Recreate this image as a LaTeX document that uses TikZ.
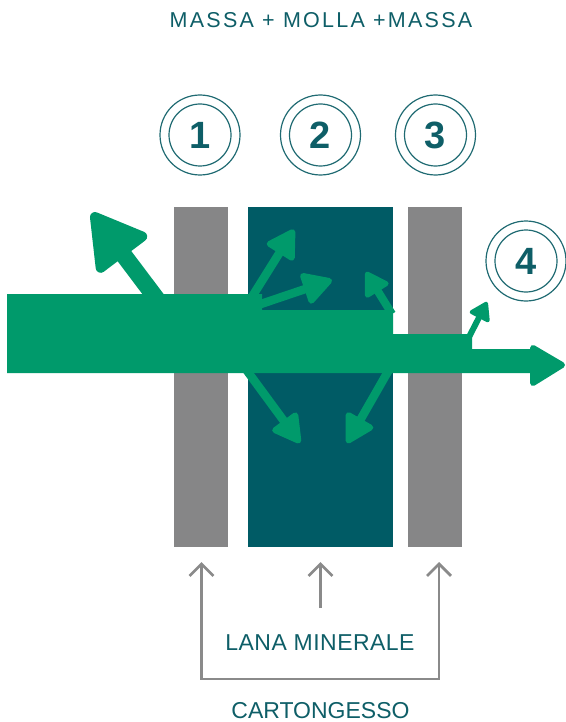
\documentclass[tikz,border=0pt]{standalone}
\usepackage{fontspec}
\setmainfont{Liberation Sans}
\usetikzlibrary{arrows.meta}
\definecolor{gr}{HTML}{009A6B}
\definecolor{tealbar}{HTML}{005B65}
\definecolor{graybar}{HTML}{868687}
\definecolor{txt}{HTML}{0E5E67}
\definecolor{ringc}{HTML}{1F6A72}
\definecolor{garrc}{HTML}{8A8A8A}
\tikzset{
  pics/garrow/.style n args={5}{code={%
    \fill[gr] (0,{-#2/2}) rectangle ({#1-#3+1},{#2/2});
    \filldraw[gr, line width=#5pt, line join=round]
      ({#1-#3+#5/2},{-#4/2+#5/2}) -- ({#1-#5/2},0) -- ({#1-#3+#5/2},{#4/2-#5/2}) -- cycle;
  }},
  bar/.style={minimum width=#1, minimum height=340pt, inner sep=0pt, outer sep=0pt},
  ringnode/.style={circle, draw=ringc, line width=1.2pt, minimum size=62pt, inner sep=0pt,
    text=txt, font=\bfseries\fontsize{38}{38}\selectfont},
  outerring/.style={draw=ringc, line width=1.2pt},
  lbl/.style={text=txt, inner sep=0pt, anchor=base},
  grayline/.style={draw=garrc, line width=2.7pt},
  barb/.style={-{Straight Barb[length=12pt,width=24pt]}}
}
\begin{document}
\begin{tikzpicture}[x=1pt,y=-1pt]
\useasboundingbox (0,0) rectangle (565,722);

% title
\node[lbl, font={\fontsize{21.5}{24}\selectfont\addfontfeature{LetterSpace=10.5}}] (title) at (321,28) {MASSA + MOLLA +MASSA};

% numbered rings
\node[ringnode] (n1) at (200,135) {1};
\node[ringnode] (n2) at (320.5,135) {2};
\node[ringnode] (n3) at (435.5,135) {3};
\node[ringnode] (n4) at (526,261) {4};
\foreach \n in {n1,n2,n3,n4} \draw[outerring] (\n.center) circle[radius=40pt];

% layers
\node[bar=54pt, fill=graybar] (p1) at (201,377) {};
\node[bar=145pt, fill=tealbar] (p2) at (320.5,377) {};
\node[bar=54pt, fill=graybar] (p3) at (435,377) {};

% green sound band
\fill[gr] (7,294) -- (262,294) -- (262,310) -- (393,310) -- (393,334) -- (472,334)
  -- (472,349) -- (533,349) -- (533,373) -- (7,373) -- cycle;
\filldraw[gr, line width=6pt, line join=round] (533,348) -- (562,365) -- (533,383) -- cycle;

% reflected / transmitted arrows
\pic[rotate=127] at (159,302) {garrow={111.4}{17}{54}{62}{10}};
\pic[rotate=58] at (250,300) {garrow={83}{8.5}{28}{32}{6}};
\pic[rotate=18.7] at (258,305) {garrow={78}{8.5}{29}{32}{6}};
\pic[rotate=121.8] at (392,314) {garrow={49.4}{8}{23}{27}{5}};
\pic[rotate=-53.7] at (245,368) {garrow={93}{8.5}{28}{31}{6}};
\pic[rotate=-119.8] at (390,368) {garrow={86.5}{8.5}{28}{31}{6}};
\pic[rotate=62.8] at (469,337) {garrow={39.4}{6}{18}{22}{4}};

% bottom labels and pointers
\coordinate (lt) at (201.5,562);
\coordinate (lb) at (201.5,679);
\coordinate (rt) at (439,562);
\coordinate (rb) at (439,679);
\coordinate (mt) at (320.5,562);
\coordinate (mb) at (320.5,608);
\draw[grayline, {Straight Barb[length=12pt,width=24pt]}-{Straight Barb[length=12pt,width=24pt]}] (lt) -- (lb) -- (rb) -- (rt);
\draw[grayline, barb] (mb) -- (mt);

\node[lbl, font={\fontsize{23}{26}\selectfont\addfontfeature{LetterSpace=2}}] (lana) at (320,650) {LANA MINERALE};
\node[lbl, font={\fontsize{23}{26}\selectfont}] (carton) at (320.5,718) {CARTONGESSO};
\end{tikzpicture}
\end{document}
